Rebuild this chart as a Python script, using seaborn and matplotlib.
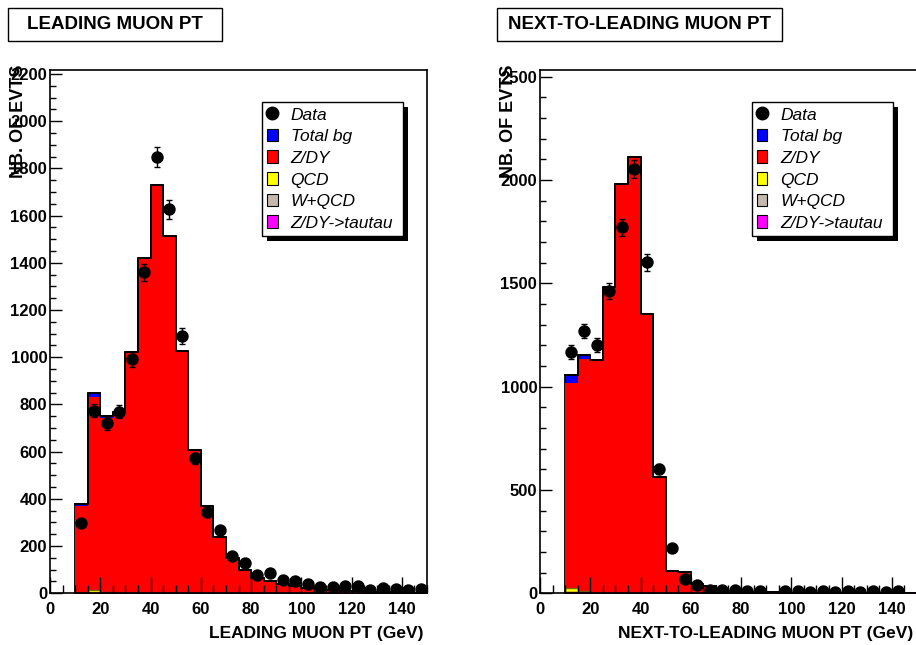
import numpy as np
import pandas as pd
import matplotlib
matplotlib.use('Agg')
import matplotlib.pyplot as plt
from matplotlib.patches import Patch, Rectangle
from matplotlib.lines import Line2D
from matplotlib.ticker import MultipleLocator
import seaborn as sns

plt.rcParams['font.family'] = ['Liberation Sans', 'DejaVu Sans']
plt.rcParams['font.weight'] = 'bold'

# 5 GeV bins from 10 to 150 GeV
bin_edges = [10, 15, 20, 25, 30, 35, 40, 45, 50, 55, 60, 65, 70, 75, 80,
             85, 90, 95, 100, 105, 110, 115, 120, 125, 130, 135, 140, 145, 150]

# leading muon pt
lead_zdy = [371, 830, 742, 764, 1017, 1418, 1728, 1514, 1026, 606, 367, 239, 149, 100,
            65, 50, 40, 30, 22, 16, 12, 10, 8, 6, 5, 4, 3, 3]
lead_qcd = [3, 12, 4, 2, 1, 1, 1, 0, 0, 0, 0, 0, 0, 0, 0, 0, 0, 0, 0, 0, 0, 0, 0, 0, 0, 0, 0, 0]
lead_wqcd = [1, 2, 1, 1, 1, 1, 0, 0, 0, 0, 0, 0, 0, 0, 0, 0, 0, 0, 0, 0, 0, 0, 0, 0, 0, 0, 0, 0]
lead_tau = [2, 3, 3, 3, 3, 2, 2, 1, 1, 1, 1, 0, 0, 0, 0, 0, 0, 0, 0, 0, 0, 0, 0, 0, 0, 0, 0, 0]
lead_data = [299, 774, 720, 770, 991, 1360, 1847, 1627, 1091, 572, 343, 266, 158, 127,
             77, 86, 55, 53, 38, 25, 28, 30, 31, 15, 24, 19, 15, 18]

# next-to-leading muon pt
sub_zdy = [1019, 1134, 1122, 1478, 1978, 2106, 1351, 562, 106, 105, 45, 35, 20, 12,
           8, 5, 5, 3, 2, 2, 1, 1, 1, 1, 1, 1, 0, 0]
sub_qcd = [24, 9, 3, 2, 1, 1, 0, 0, 0, 0, 0, 0, 0, 0, 0, 0, 0, 0, 0, 0, 0, 0, 0, 0, 0, 0, 0, 0]
sub_wqcd = [5, 3, 1, 1, 0, 0, 0, 0, 0, 0, 0, 0, 0, 0, 0, 0, 0, 0, 0, 0, 0, 0, 0, 0, 0, 0, 0, 0]
sub_tau = [8, 7, 3, 2, 2, 2, 1, 1, 0, 0, 0, 0, 0, 0, 0, 0, 0, 0, 0, 0, 0, 0, 0, 0, 0, 0, 0, 0]
sub_data = [1166, 1269, 1201, 1464, 1771, 2053, 1601, 600, 218, 70, 40, 16, 18, 15,
            13, 9, 0, 10, 9, 8, 9, 8, 9, 8, 9, 8, 9, 0]

legend_labels = ['Data', 'Total bg', 'Z/DY', 'QCD', 'W+QCD', 'Z/DY->tautau']
colors = {'total': '#0000ff', 'zdy': '#ff0000', 'qcd': '#ffff00',
          'wqcd': '#c4b8ac', 'tau': '#ff00ff'}

edges = np.array(bin_edges)
centers = (edges[:-1] + edges[1:]) / 2


def draw_panel(ax, zdy, qcd, wqcd, tau, data, ymax, ymajor, yminor, xlabel):
    df = pd.DataFrame({'pt': centers, 'zdy': zdy, 'qcd': qcd, 'wqcd': wqcd, 'tau': tau})
    df['total'] = df['zdy'] + df['qcd'] + df['wqcd'] + df['tau']
    styles = [('total', 'black', 1.3), ('zdy', 'none', 0), ('qcd', '#7a6a00', 1),
              ('wqcd', '#5a4a3a', 0.8), ('tau', '#4b0040', 1)]
    for key, ec, lw in styles:
        sns.histplot(data=df, x='pt', weights=key, bins=bin_edges, element='step',
                     fill=True, color=colors[key], facecolor=colors[key], alpha=1,
                     edgecolor=ec, linewidth=lw, ax=ax)
    # outline of the total on top
    sns.histplot(data=df, x='pt', weights='total', bins=bin_edges, element='step',
                 fill=False, color='black', linewidth=1.4, ax=ax)

    data = np.array(data)
    keep = data > 0
    ax.errorbar(centers[keep], data[keep], yerr=np.sqrt(data[keep]), fmt='none',
                ecolor='black', elinewidth=1, capsize=2.5, capthick=1, zorder=3)
    sns.scatterplot(x=centers[keep], y=data[keep], color='black', s=80,
                    linewidth=0, ax=ax, zorder=4)

    ax.set_xlim(0, 150)
    ax.set_ylim(0, ymax)
    ax.set_xlabel('')
    ax.set_ylabel('')
    ax.xaxis.set_major_locator(MultipleLocator(20))
    ax.xaxis.set_minor_locator(MultipleLocator(5))
    ax.yaxis.set_major_locator(MultipleLocator(ymajor))
    ax.yaxis.set_minor_locator(MultipleLocator(yminor))
    ax.tick_params(which='both', direction='in', top=False, right=False,
                   labelsize=12, width=1, color='black')
    ax.tick_params(axis='x', which='major', length=11.3, pad=6)
    ax.tick_params(axis='x', which='minor', length=5.6)
    ax.tick_params(axis='y', which='major', length=8.4, pad=2)
    ax.tick_params(axis='y', which='minor', length=4.3)
    for s in ax.spines.values():
        s.set_linewidth(1.2)
        s.set_color('black')

    ax.text(0.99, -0.076, xlabel, transform=ax.transAxes, ha='right', va='center',
            fontsize=12.5, fontweight='bold')
    # ROOT places the y title at the top of the axis, over the tick labels
    ax.text(-0.084, 1.01, 'NB. OF EVTS', transform=ax.transAxes, rotation=90,
            ha='center', va='top', fontsize=13, fontweight='bold')

    handles = [Line2D([], [], marker='o', color='black', linestyle='none', markersize=9)]
    for key in ['total', 'zdy', 'qcd', 'wqcd', 'tau']:
        handles.append(Patch(facecolor=colors[key], edgecolor='black', linewidth=0.8))
    leg = ax.legend(handles, legend_labels, loc='upper left',
                    bbox_to_anchor=(0.562, 0.690, 0.374, 0.249), mode='expand',
                    borderaxespad=0, borderpad=0.3, labelspacing=0.36,
                    handlelength=0.6, handleheight=0.75, handletextpad=0.75,
                    fancybox=False, edgecolor='black', framealpha=1,
                    prop={'style': 'italic', 'weight': 'normal', 'size': 12.5})
    leg.get_frame().set_linewidth(1.0)
    return leg


fig = plt.figure(figsize=(9.16, 6.45), dpi=100)
ax1 = fig.add_axes([0.0546, 0.0802, 0.4116, 0.8113])
ax2 = fig.add_axes([0.5895, 0.0802, 0.4116, 0.8113])

leg1 = draw_panel(ax1, lead_zdy, lead_qcd, lead_wqcd, lead_tau, lead_data,
                  2217, 200, 50, 'LEADING MUON PT (GeV)')
leg2 = draw_panel(ax2, sub_zdy, sub_qcd, sub_wqcd, sub_tau, sub_data,
                  2532, 500, 100, 'NEXT-TO-LEADING MUON PT (GeV)')

# title boxes
for x0, w, title in [(0.0082, 0.234, 'LEADING MUON PT'),
                     (0.5431, 0.3111, 'NEXT-TO-LEADING MUON PT')]:
    fig.add_artist(Rectangle((x0, 0.9364), w, 0.0512, transform=fig.transFigure,
                             fill=False, edgecolor='black', linewidth=1.0))
    fig.text(x0 + w / 2, 0.962, title, ha='center', va='center',
             fontsize=13.5, fontweight='bold')

# black drop shadow behind the legends
fig.canvas.draw()
for ax, leg in [(ax1, leg1), (ax2, leg2)]:
    bb = leg.get_window_extent().transformed(ax.transAxes.inverted())
    ax.add_patch(Rectangle((bb.x0 + 5 / 377, bb.y0 - 5 / 523), bb.width, bb.height,
                           transform=ax.transAxes, facecolor='black', edgecolor='none',
                           zorder=4.9, clip_on=False))

fig.savefig('out.png', dpi=100)
